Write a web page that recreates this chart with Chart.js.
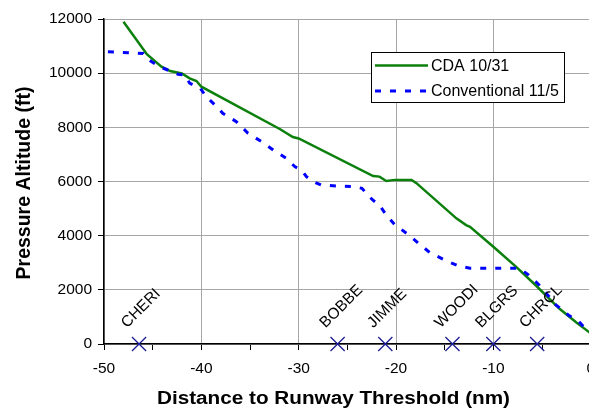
<!DOCTYPE html>
<html>
<head>
<meta charset="utf-8">
<script src="https://cdn.jsdelivr.net/npm/chart.js@4/dist/chart.umd.min.js"></script>
<style>
  html, body { margin: 0; padding: 0; background: #fff; overflow: hidden; }
  #wrap { width: 604px; height: 409px; }
</style>
</head>
<body>
<div id="wrap"><canvas id="c" width="604" height="409"></canvas></div>
<script>
// CDA 10/31 descent profile (distance nm, altitude ft)
const cdaDist = [-48.0, -45.6, -44.1, -43.2, -42.0, -41.2, -40.5, -40.0, -31.9, -30.6, -30.0,
  -22.35, -21.7, -21.0, -20.1, -18.4, -17.9, -13.8, -12.8, -12.4, -10.0, -7.6, -5.6, -3.2, -1.5, -0.1];
const cdaAlt = [11900, 10700, 10240, 10080, 9990, 9810, 9710, 9500, 7930, 7640, 7590,
  6200, 6180, 6020, 6060, 6060, 5940, 4640, 4390, 4330, 3590, 2830, 2150, 1300, 800, 420];

// Conventional 11/5 profile
const convDist = [-49.6, -46.0, -45.4, -44.3, -43.2, -42.4, -41.7, -41.2, -40.1, -39.5, -38.4,
  -37.8, -36.4, -35.2, -33.8, -32.6, -31.3, -30.4, -29.7, -29.2, -28.5, -27.7, -25.9, -24.4,
  -23.5, -22.9, -22.4, -21.7, -21.0, -20.1, -19.6, -18.6, -17.7, -16.5, -15.0, -13.6, -12.4,
  -11.0, -7.3, -6.4, -5.3, -4.4, -3.6, -2.3, -1.2, -0.4, -0.1];
const convAlt = [10790, 10730, 10490, 10240, 10080, 9960, 9930, 9630, 9440, 9130, 8760,
  8520, 8210, 7780, 7470, 7160, 6860, 6550, 6420, 6180, 5990, 5870, 5830, 5810,
  5750, 5500, 5320, 5130, 4760, 4390, 4270, 4000, 3720, 3370, 3100, 2880, 2800,
  2800, 2800, 2550, 2180, 1800, 1450, 1070, 820, 520, 430];

// waypoints along the runway approach
const wpNames = ['CHERI', 'BOBBE', 'JIMME', 'WOODI', 'BLGRS', 'CHRCL'];
const wpDist = [-46.4, -26.0, -21.1, -14.2, -10.0, -5.5];

const yTicks = [0, 2000, 4000, 6000, 8000, 10000, 12000];

const xTitle = 'Distance to Runway Threshold (nm)';
const yTitle = 'Pressure Altitude (ft)';

const FONT = "'Liberation Sans', Arial, sans-serif";

function pts(xs, ys){ return xs.map((x, i) => ({x: x, y: ys[i]})); }

const GREEN = '#0c800c';
const BLUE = '#0000ff';

// rotated waypoint names above the X markers
const wpLabels = {
  id: 'wpLabels',
  afterDatasetsDraw(chart){
    const ctx = chart.ctx;
    const xs = chart.scales.x, ys = chart.scales.y;
    ctx.save();
    ctx.font = '15.5px ' + FONT;
    ctx.fillStyle = '#000';
    ctx.textAlign = 'left';
    ctx.textBaseline = 'alphabetic';
    wpNames.forEach((name, i) => {
      const px = xs.getPixelForValue(wpDist[i]);
      const py = ys.getPixelForValue(0);
      ctx.save();
      ctx.translate(px - 12, py - 15.5);
      ctx.rotate(-Math.PI / 4);
      ctx.fillText(name, 0, 0);
      ctx.restore();
    });
    ctx.restore();
  }
};

// axis titles (the source picture has slightly wide lettering)
const axisTitles = {
  id: 'axisTitles',
  afterDraw(chart){
    const ctx = chart.ctx;
    ctx.save();
    ctx.fillStyle = '#000';
    ctx.textAlign = 'center';
    ctx.textBaseline = 'alphabetic';
    ctx.font = 'bold 17.5px ' + FONT;
    const w = ctx.measureText(xTitle).width;
    ctx.save();
    ctx.translate(333.5, 403.5);
    ctx.scale(353 / w, 1);
    ctx.fillText(xTitle, 0, 0);
    ctx.restore();
    ctx.font = 'bold 19.5px ' + FONT;
    ctx.translate(29.5, 183);
    ctx.rotate(-Math.PI / 2);
    ctx.fillText(yTitle, 0, 0);
    ctx.restore();
  }
};

// boxed legend inside the plot
const boxLegend = {
  id: 'boxLegend',
  afterDraw(chart){
    const ctx = chart.ctx;
    ctx.save();
    ctx.fillStyle = '#fff';
    ctx.fillRect(371, 52.5, 193, 50);
    ctx.strokeStyle = '#000';
    ctx.lineWidth = 1;
    ctx.strokeRect(371.5, 52.5, 193, 50);
    const items = chart.data.datasets.filter(d => d.inLegend);
    items.sort((a, b) => a.legendRow - b.legendRow);
    items.forEach((d, i) => {
      const y = 65.5 + i * 25.5;
      ctx.beginPath();
      ctx.strokeStyle = d.borderColor;
      ctx.lineWidth = d.borderWidth;
      ctx.setLineDash(d.borderDash || []);
      ctx.moveTo(375, y);
      ctx.lineTo(428, y);
      ctx.stroke();
      ctx.setLineDash([]);
      ctx.fillStyle = '#000';
      ctx.font = '16px ' + FONT;
      ctx.textBaseline = 'middle';
      ctx.fillText(d.label, 431, y + 1);
    });
    ctx.restore();
  }
};

new Chart(document.getElementById('c'), {
  type: 'scatter',
  data: {
    datasets: [
      {
        label: 'Conventional 11/5', data: pts(convDist, convAlt), showLine: true,
        borderColor: BLUE, borderWidth: 3, borderDash: [6, 9], pointRadius: 0,
        order: 0, inLegend: true, legendRow: 1
      },
      {
        label: 'CDA 10/31', data: pts(cdaDist, cdaAlt), showLine: true,
        borderColor: GREEN, borderWidth: 2.5, pointRadius: 0,
        order: 1, inLegend: true, legendRow: 0
      },
      {
        label: 'Waypoints', data: wpDist.map(d => ({x: d, y: 0})),
        pointStyle: 'crossRot', pointRadius: 10, borderColor: '#1c1c96', borderWidth: 1.3,
        backgroundColor: '#1c1c96', clip: false, order: 2
      }
    ]
  },
  options: {
    responsive: false,
    animation: false,
    events: [],
    layout: { padding: { left: 0, right: 6, top: 19, bottom: 2 } },
    plugins: { legend: { display: false }, tooltip: { enabled: false } },
    scales: {
      x: {
        type: 'linear', min: -50, max: 0,
        afterFit: s => { s.height = 63; },
        ticks: {
          stepSize: 5, autoSkip: false, maxRotation: 0, padding: 9,
          color: '#000', font: { family: FONT, size: 15.5 },
          callback: v => (v % 10 === 0 ? String(v) : '')
        },
        grid: {
          color: c => (c.tick && c.tick.value % 10 === 0 ? '#a6a6a6' : 'rgba(0,0,0,0)'),
          tickColor: '#000', tickLength: 6, lineWidth: 1
        },
        border: { color: '#000', width: 1.5 }
      },
      y: {
        min: 0, max: 12000,
        afterFit: s => { s.width = 104; },
        afterBuildTicks: s => { s.ticks = yTicks.map(v => ({value: v})); },
        ticks: {
          padding: 6, color: '#000', font: { family: FONT, size: 15.5 },
          callback: v => String(v)
        },
        grid: { color: '#a6a6a6', tickColor: '#000', tickLength: 6, lineWidth: 1 },
        border: { color: '#000', width: 1.5 }
      }
    }
  },
  plugins: [wpLabels, axisTitles, boxLegend]
});
</script>
</body>
</html>
